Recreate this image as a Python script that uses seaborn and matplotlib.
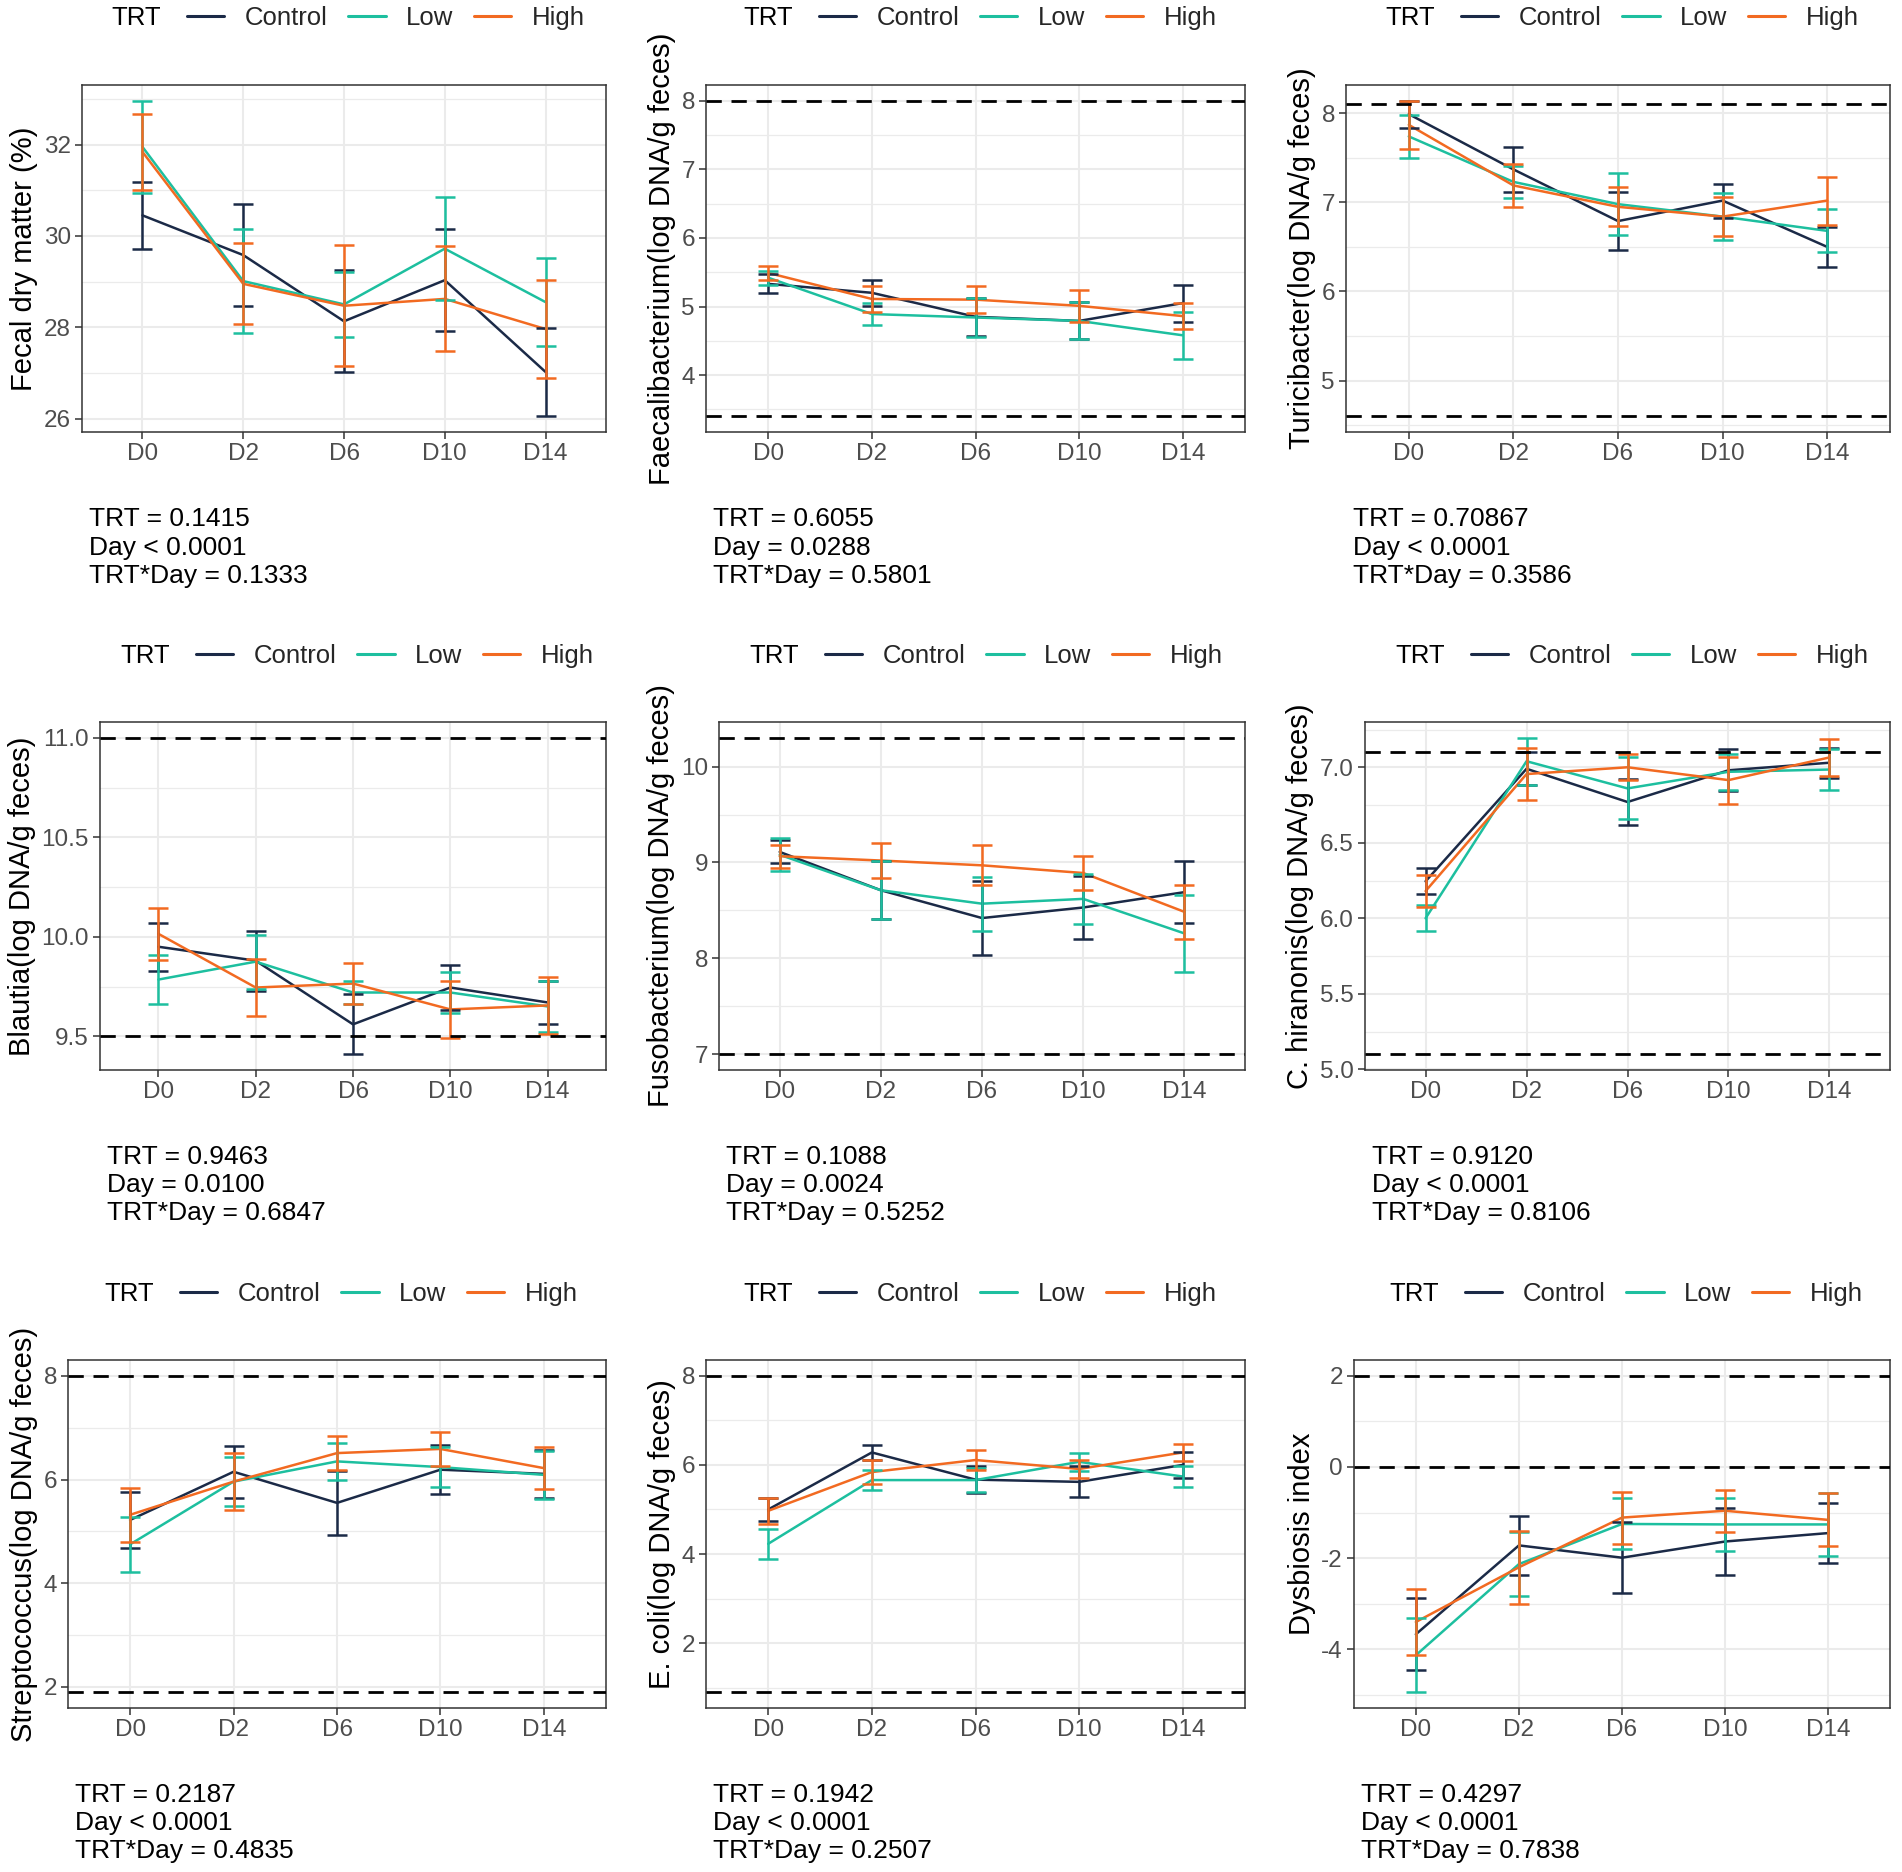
import numpy as np
import pandas as pd
import matplotlib
matplotlib.use("Agg")
import matplotlib.pyplot as plt
import seaborn as sns
from matplotlib.ticker import MultipleLocator, FormatStrFormatter, NullLocator
from matplotlib.lines import Line2D

# ---------------- data ----------------
DAYS = ["D0", "D2", "D6", "D10", "D14"]
GROUPS = ["Control", "Low", "High"]

# Fecal dry matter
FDM_MEAN = {"Control": [30.45, 29.58, 28.13, 29.03, 27.02],
            "Low": [31.95, 29.01, 28.50, 29.72, 28.55],
            "High": [31.84, 28.95, 28.47, 28.62, 27.96]}
FDM_SE = {"Control": [0.74, 1.12, 1.12, 1.12, 0.97],
          "Low": [1.01, 1.14, 0.71, 1.13, 0.97],
          "High": [0.84, 0.89, 1.32, 1.15, 1.07]}

# Faecalibacterium
FAE_MEAN = {"Control": [5.33, 5.20, 4.85, 4.79, 5.05],
            "Low": [5.42, 4.89, 4.84, 4.79, 4.58],
            "High": [5.49, 5.11, 5.10, 5.01, 4.86]}
FAE_SE = {"Control": [0.14, 0.19, 0.28, 0.27, 0.27],
          "Low": [0.10, 0.16, 0.28, 0.27, 0.34],
          "High": [0.10, 0.19, 0.20, 0.23, 0.19]}

# Turicibacter
TUR_MEAN = {"Control": [7.99, 7.37, 6.79, 7.02, 6.50],
            "Low": [7.74, 7.23, 6.98, 6.84, 6.68],
            "High": [7.87, 7.19, 6.95, 6.84, 7.02]}
TUR_SE = {"Control": [0.15, 0.25, 0.33, 0.19, 0.225],
          "Low": [0.24, 0.18, 0.35, 0.26, 0.24],
          "High": [0.27, 0.245, 0.22, 0.22, 0.27]}

# Blautia
BLA_MEAN = {"Control": [9.95, 9.88, 9.56, 9.745, 9.67],
            "Low": [9.785, 9.875, 9.72, 9.72, 9.65],
            "High": [10.015, 9.745, 9.765, 9.635, 9.655]}
BLA_SE = {"Control": [0.12, 0.15, 0.15, 0.115, 0.11],
          "Low": [0.125, 0.135, 0.06, 0.105, 0.13],
          "High": [0.13, 0.145, 0.105, 0.145, 0.145]}

# Fusobacterium
FUS_MEAN = {"Control": [9.11, 8.71, 8.42, 8.53, 8.69],
            "Low": [9.08, 8.71, 8.57, 8.62, 8.26],
            "High": [9.065, 9.02, 8.97, 8.89, 8.485]}
FUS_SE = {"Control": [0.12, 0.30, 0.39, 0.33, 0.32],
          "Low": [0.17, 0.30, 0.28, 0.26, 0.40],
          "High": [0.12, 0.185, 0.21, 0.18, 0.28]}

# C. hiranonis
CHI_MEAN = {"Control": [6.245, 6.99, 6.77, 6.98, 7.03],
            "Low": [6.00, 7.04, 6.86, 6.97, 6.985],
            "High": [6.18, 6.955, 7.00, 6.915, 7.065]}
CHI_SE = {"Control": [0.085, 0.11, 0.15, 0.14, 0.10],
          "Low": [0.085, 0.155, 0.205, 0.12, 0.135],
          "High": [0.105, 0.175, 0.085, 0.155, 0.125]}

# Streptococcus
STR_MEAN = {"Control": [5.22, 6.15, 5.55, 6.19, 6.11],
            "Low": [4.75, 5.96, 6.35, 6.24, 6.09],
            "High": [5.32, 5.96, 6.51, 6.59, 6.22]}
STR_SE = {"Control": [0.535, 0.50, 0.61, 0.47, 0.46],
          "Low": [0.53, 0.47, 0.35, 0.39, 0.465],
          "High": [0.515, 0.555, 0.335, 0.32, 0.40]}

# E. coli
ECO_MEAN = {"Control": [5.00, 6.28, 5.67, 5.62, 6.00],
            "Low": [4.23, 5.66, 5.66, 6.07, 5.74],
            "High": [4.97, 5.84, 6.11, 5.91, 6.28]}
ECO_SE = {"Control": [0.25, 0.17, 0.30, 0.35, 0.30],
          "Low": [0.33, 0.23, 0.27, 0.20, 0.24],
          "High": [0.285, 0.26, 0.22, 0.20, 0.19]}

# Dysbiosis index
DI_MEAN = {"Control": [-3.67, -1.72, -1.99, -1.635, -1.45],
           "Low": [-4.13, -2.13, -1.25, -1.26, -1.26],
           "High": [-3.40, -2.20, -1.11, -0.96, -1.16]}
DI_SE = {"Control": [0.79, 0.655, 0.78, 0.73, 0.65],
         "Low": [0.81, 0.70, 0.56, 0.59, 0.70],
         "High": [0.72, 0.80, 0.57, 0.46, 0.58]}

YLABELS = ["Fecal dry matter (%)",
           "Faecalibacterium(log DNA/g feces)",
           "Turicibacter(log DNA/g feces)",
           "Blautia(log DNA/g feces)",
           "Fusobacterium(log DNA/g feces)",
           "C. hiranonis(log DNA/g feces)",
           "Streptococcus(log DNA/g feces)",
           "E. coli(log DNA/g feces)",
           "Dysbiosis index"]
REF_LINES = [[], [8.0, 3.4], [8.1, 4.6], [11.0, 9.5], [10.3, 7.0],
             [7.1, 5.1], [8.0, 1.9], [8.0, 0.9], [2.0, 0.0]]
STATS = [["TRT = 0.1415", "Day < 0.0001", "TRT*Day = 0.1333"],
         ["TRT = 0.6055", "Day = 0.0288", "TRT*Day = 0.5801"],
         ["TRT = 0.70867", "Day < 0.0001", "TRT*Day = 0.3586"],
         ["TRT = 0.9463", "Day = 0.0100", "TRT*Day = 0.6847"],
         ["TRT = 0.1088", "Day = 0.0024", "TRT*Day = 0.5252"],
         ["TRT = 0.9120", "Day < 0.0001", "TRT*Day = 0.8106"],
         ["TRT = 0.2187", "Day < 0.0001", "TRT*Day = 0.4835"],
         ["TRT = 0.1942", "Day < 0.0001", "TRT*Day = 0.2507"],
         ["TRT = 0.4297", "Day < 0.0001", "TRT*Day = 0.7838"]]
MEANS = [FDM_MEAN, FAE_MEAN, TUR_MEAN, BLA_MEAN, FUS_MEAN, CHI_MEAN, STR_MEAN, ECO_MEAN, DI_MEAN]
SES = [FDM_SE, FAE_SE, TUR_SE, BLA_SE, FUS_SE, CHI_SE, STR_SE, ECO_SE, DI_SE]

# ---------------- style ----------------
COLORS = {"Control": "#1B2A47", "Low": "#1DBF9F", "High": "#F26A21"}
TICK_STEP = [2, 1, 1, 0.5, 1, 0.5, 2, 2, 2]
TICK_FMT = ["%g", "%g", "%g", "%.1f", "%g", "%.1f", "%g", "%g", "%g"]

sns.set_theme(style="white")
plt.rcParams["font.family"] = ["Liberation Sans", "DejaVu Sans"]
plt.rcParams["axes.unicode_minus"] = False

W, H = 1902, 1872
fig = plt.figure(figsize=(W / 100, H / 100), dpi=100)
fig.patch.set_facecolor("white")

# pixel boxes (left, right, top, bottom)
ROW_TB = [(85, 432), (722, 1070), (1360, 1708)]
COL_LR = [[(82, 606), (706, 1245), (1346, 1890)],
          [(100, 606), (719, 1245), (1365, 1890)],
          [(68, 606), (706, 1245), (1354, 1890)]]
LEG_Y = [18, 656, 1294]
STAT_BASE = [[526, 555, 583], [1164, 1192, 1220], [1802, 1830, 1858]]

LW = 1.8
legends = []
for i in range(9):
    r, c = divmod(i, 3)
    top, bot = ROW_TB[r]
    left, right = COL_LR[r][c]
    ax = fig.add_axes([left / W, 1 - bot / H, (right - left) / W, (bot - top) / H])

    rows = []
    for g in GROUPS:
        for d, m, s in zip(DAYS, MEANS[i][g], SES[i][g]):
            rows.append({"Day": d, "TRT": g, "value": m, "se": s})
    df = pd.DataFrame(rows)

    sns.lineplot(data=df, x="Day", y="value", hue="TRT", hue_order=GROUPS,
                 palette=COLORS, sort=False, lw=LW, legend=False, ax=ax, zorder=3)
    for g in GROUPS:
        sub = df[df["TRT"] == g]
        ax.errorbar(sub["Day"], sub["value"], yerr=sub["se"], fmt="none",
                    ecolor=COLORS[g], elinewidth=LW, capsize=7.5, capthick=LW, zorder=3)
    for yv in REF_LINES[i]:
        ax.axhline(yv, color="black", lw=2.0, ls=(0, (5.5, 3.5)), zorder=4)

    lo = min(np.min(np.array(MEANS[i][g]) - np.array(SES[i][g])) for g in GROUPS)
    hi = max(np.max(np.array(MEANS[i][g]) + np.array(SES[i][g])) for g in GROUPS)
    if REF_LINES[i]:
        lo = min(lo, min(REF_LINES[i]))
        hi = max(hi, max(REF_LINES[i]))
    pad = 0.05 * (hi - lo)
    ax.set_ylim(lo - pad, hi + pad)
    ax.set_xlim(-0.6, len(DAYS) - 0.4)

    ax.yaxis.set_major_locator(MultipleLocator(TICK_STEP[i]))
    ax.yaxis.set_minor_locator(MultipleLocator(TICK_STEP[i] / 2))
    ax.yaxis.set_major_formatter(FormatStrFormatter(TICK_FMT[i]))
    ax.xaxis.set_minor_locator(NullLocator())
    ax.grid(which="major", color="#EBEBEB", lw=1.5, zorder=0)
    ax.grid(which="minor", axis="y", color="#EBEBEB", lw=0.9, zorder=0)
    ax.set_axisbelow(True)
    ax.tick_params(which="major", length=5, width=1.1, color="#333333",
                   labelsize=17.5, labelcolor="#4D4D4D", pad=3, left=True, bottom=True)
    ax.tick_params(which="minor", length=0)
    for sp in ax.spines.values():
        sp.set_color("#333333")
        sp.set_linewidth(1.1)
    ax.set_xlabel("")
    ax.set_ylabel(YLABELS[i], fontsize=21, color="black", labelpad=4)

    handles = [Line2D([], [], color=COLORS[g], lw=2.2) for g in GROUPS]
    cx = (left + right) / 2 + 42
    leg = fig.legend(handles, GROUPS, loc="center", ncol=3, frameon=False,
                     bbox_to_anchor=(cx / W, 1 - LEG_Y[r] / H),
                     fontsize=18.5, handlelength=1.45, handletextpad=0.8,
                     columnspacing=0.8, borderpad=0, borderaxespad=0)
    legends.append((leg, LEG_Y[r]))

    for k, line in enumerate(STATS[i]):
        fig.text((left + 7) / W, 1 - STAT_BASE[r][k] / H, line,
                 fontsize=19, ha="left", va="baseline", color="black")

fig.canvas.draw()
renderer = fig.canvas.get_renderer()
for leg, ly in legends:
    bb = leg.get_window_extent(renderer)
    fig.text((bb.x0 - 26) / W, 1 - ly / H, "TRT", fontsize=18.5,
             ha="right", va="center", color="black")

fig.savefig("out.png", dpi=100, facecolor="white")
